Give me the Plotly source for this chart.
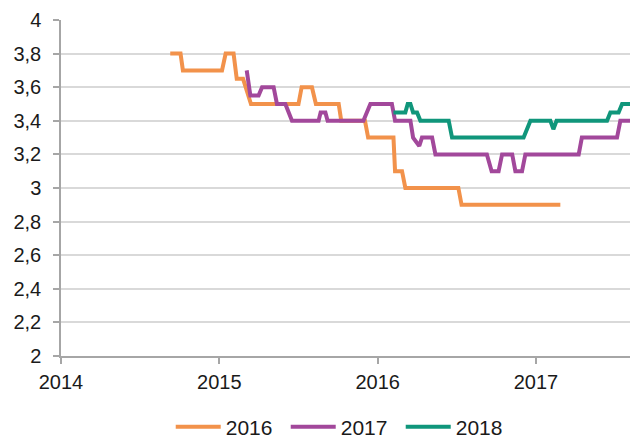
import plotly.graph_objects as go

# Series 2016 (orange)
x_2016 = [2014.69, 2014.755, 2014.77, 2015.017, 2015.04, 2015.09, 2015.11, 2015.15, 2015.20,
          2015.50, 2015.52, 2015.585, 2015.61, 2015.754, 2015.77, 2015.92, 2015.94,
          2016.10, 2016.11, 2016.154, 2016.175, 2016.51, 2016.53, 2017.154]
y_2016 = [3.8, 3.8, 3.7, 3.7, 3.8, 3.8, 3.65, 3.65, 3.5,
          3.5, 3.6, 3.6, 3.5, 3.5, 3.4, 3.4, 3.3,
          3.3, 3.1, 3.1, 3.0, 3.0, 2.9, 2.9]

# Series 2017 (purple)
x_2017 = [2015.173, 2015.196, 2015.248, 2015.27, 2015.343, 2015.364, 2015.417, 2015.459,
          2015.627, 2015.64, 2015.67, 2015.684, 2015.91, 2015.954, 2016.09, 2016.11,
          2016.207, 2016.224, 2016.263, 2016.28, 2016.344, 2016.365, 2016.69, 2016.72,
          2016.764, 2016.786, 2016.85, 2016.87, 2016.912, 2016.933, 2017.27, 2017.29,
          2017.512, 2017.533, 2017.6]
y_2017 = [3.7, 3.55, 3.55, 3.6, 3.6, 3.5, 3.5, 3.4,
          3.4, 3.45, 3.45, 3.4, 3.4, 3.5, 3.5, 3.4,
          3.4, 3.3, 3.25, 3.3, 3.3, 3.2, 3.2, 3.1,
          3.1, 3.2, 3.2, 3.1, 3.1, 3.2, 3.2, 3.3,
          3.3, 3.4, 3.4]

# Series 2018 (green)
x_2018 = [2016.10, 2016.175, 2016.19, 2016.207, 2016.224, 2016.249, 2016.27, 2016.449, 2016.47,
          2016.922, 2016.965, 2017.091, 2017.11, 2017.13, 2017.449, 2017.47, 2017.522,
          2017.544, 2017.6]
y_2018 = [3.45, 3.45, 3.5, 3.5, 3.45, 3.45, 3.4, 3.4, 3.3,
          3.3, 3.4, 3.4, 3.35, 3.4, 3.4, 3.45, 3.45,
          3.5, 3.5]

x_tick_vals = [2014, 2015, 2016, 2017]
x_tick_text = ["2014", "2015", "2016", "2017"]
y_tick_vals = [2, 2.2, 2.4, 2.6, 2.8, 3, 3.2, 3.4, 3.6, 3.8, 4]
y_tick_text = ["2", "2,2", "2,4", "2,6", "2,8", "3", "3,2", "3,4", "3,6", "3,8", "4"]

series = [
    ("2016", x_2016, y_2016, "#F2924B"),
    ("2017", x_2017, y_2017, "#A2489B"),
    ("2018", x_2018, y_2018, "#10967B"),
]

fig = go.Figure()
for name, xs, ys, col in series:
    fig.add_trace(go.Scatter(x=xs, y=ys, mode="lines", name=name,
                             line=dict(color=col, width=4)))

font_family = "Liberation Sans, Arial, sans-serif"
fig.update_layout(
    width=630, height=438,
    margin=dict(l=61, r=0, t=20, b=82),
    paper_bgcolor="white", plot_bgcolor="white",
    font=dict(family=font_family, size=20, color="#1a1a1a"),
    showlegend=True,
    legend=dict(orientation="h", x=0.496, xanchor="center",
                y=0.025, yref="container", yanchor="middle",
                font=dict(size=21, color="#1a1a1a"), itemwidth=45,
                entrywidth=55, entrywidthmode="pixels",
                bgcolor="rgba(0,0,0,0)"),
    xaxis=dict(range=[2014, 2017.594], tickvals=x_tick_vals, ticktext=x_tick_text,
               showgrid=False, showline=True, linecolor="#a6a6a6", linewidth=1.5,
               ticks="outside", ticklen=6, tickcolor="#a6a6a6", tickwidth=1.5,
               zeroline=False, tickfont=dict(size=20), ticklabelstandoff=1),
    yaxis=dict(range=[2, 4], tickvals=y_tick_vals, ticktext=y_tick_text,
               showgrid=True, gridcolor="#d9d9d9", gridwidth=1.5,
               showline=True, linecolor="#a6a6a6", linewidth=1.5,
               ticks="outside", ticklen=6, tickcolor="#a6a6a6", tickwidth=1.5,
               zeroline=False, tickfont=dict(size=20), ticklabelstandoff=8),
)

fig.write_html("out.html", config={"displayModeBar": False},
               post_script="document.body.style.margin='0';")
